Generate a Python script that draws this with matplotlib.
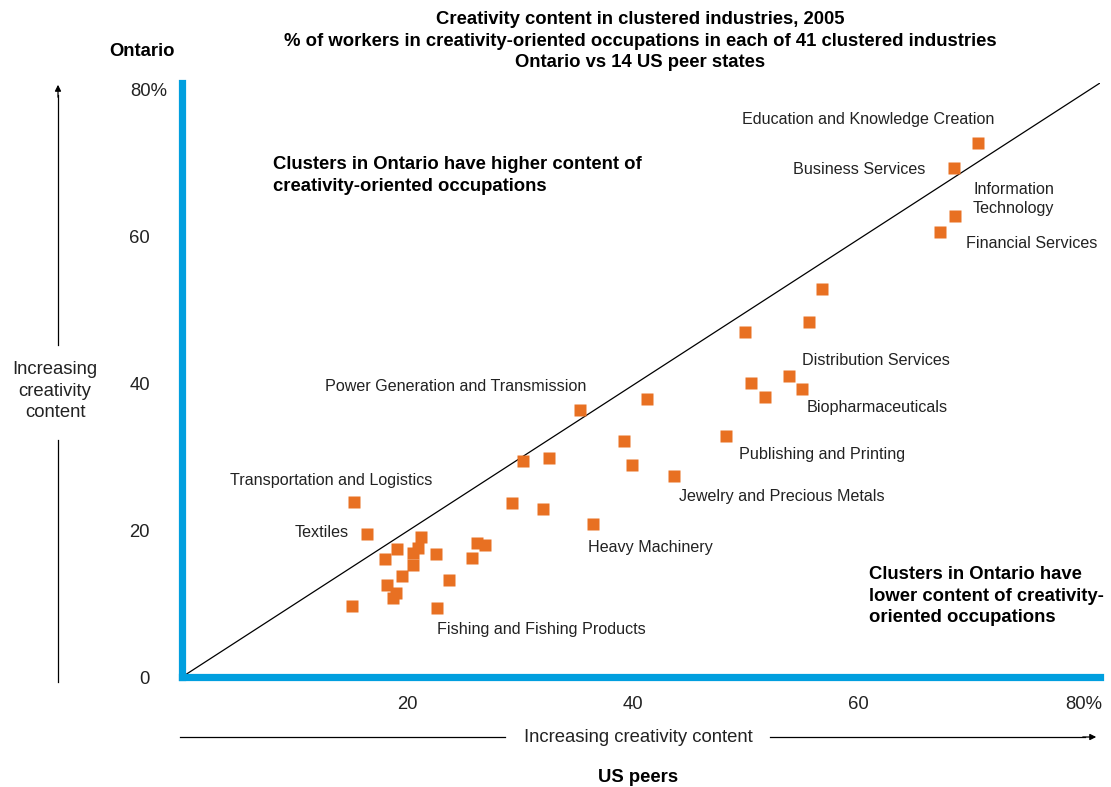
import numpy as np
import matplotlib.pyplot as plt

plt.rcParams['font.family'] = ['Liberation Sans', 'DejaVu Sans']

# % of workers in creativity-oriented occupations (US peers, Ontario)
us_peers = [15.3, 16.4, 21.2, 19.1, 18.0, 20.9, 20.5, 20.5, 22.5, 26.2,
            26.9, 25.7, 19.5, 23.7, 18.2, 19.0, 18.7, 15.1, 22.6, 29.3,
            35.3, 41.3, 39.2, 30.3, 32.6, 39.9, 43.7, 32.0, 36.5, 56.8,
            55.6, 50.0, 53.9, 50.5, 55.0, 51.7, 48.3, 70.6, 68.5, 68.6,
            67.3]
ontario = [23.8, 19.5, 19.0, 17.4, 16.1, 17.6, 16.9, 15.3, 16.7, 18.2,
           18.0, 16.2, 13.7, 13.2, 12.5, 11.4, 10.8, 9.7, 9.4, 23.7,
           36.3, 37.8, 32.1, 29.4, 29.8, 28.8, 27.3, 22.9, 20.8, 52.8,
           48.3, 46.9, 41.0, 40.0, 39.2, 38.1, 32.8, 72.7, 69.3, 62.7,
           60.5]

label_names = ["Education and Knowledge Creation", "Business Services",
               "Information\nTechnology", "Financial Services",
               "Distribution Services", "Biopharmaceuticals",
               "Publishing and Printing", "Jewelry and Precious Metals",
               "Heavy Machinery", "Fishing and Fishing Products",
               "Power Generation and Transmission",
               "Transportation and Logistics", "Textiles"]
label_x = [49.7, 54.2, 70.2, 69.6, 55.0, 55.4, 49.4, 44.1, 36.0, 22.6, 12.7, 4.3, 10.0]
label_y = [75.9, 69.1, 65.0, 59.0, 43.0, 36.6, 30.2, 24.5, 17.6, 6.4, 39.5, 26.7, 19.7]

x_ticks = [20, 40, 60, 80]
x_ticklabels = ["20", "40", "60", "80%"]
y_ticks = [0, 20, 40, 60, 80]
y_ticklabels = ["0", "20", "40", "60", "80%"]

blue = "#009FDF"
orange = "#E87022"
W, H = 1111, 787
big = 13.3

def fx(px):
    return px / W

def fy(py):
    return 1 - py / H

fig = plt.figure(figsize=(11.11, 7.87), dpi=100)
ax = fig.add_axes([fx(182), fy(677), fx(1100) - fx(182), fy(83) - fy(677)])
xmax, ymax = 81.46, 80.8
ax.set_xlim(0, xmax)
ax.set_ylim(0, ymax)

ax.plot([0, xmax], [0, ymax], color="black", lw=0.9, zorder=1)
ax.plot(us_peers, ontario, "s", color=orange, ms=8.6, mec="none", zorder=3)

for name, tx, ty in zip(label_names, label_x, label_y):
    ax.text(tx, ty, name, fontsize=11.6, ha="left", va="center", color="#222222",
            linespacing=1.3)

ax.text(8.07, 68.2, "Clusters in Ontario have higher content of\ncreativity-oriented occupations",
        fontsize=big, fontweight="bold", ha="left", va="center", linespacing=1.33)
ax.text(61.0, 11.0, "Clusters in Ontario have\nlower content of creativity-\noriented occupations",
        fontsize=big, fontweight="bold", ha="left", va="center", linespacing=1.33)

for s in ["top", "right"]:
    ax.spines[s].set_visible(False)
for s in ["left", "bottom"]:
    ax.spines[s].set_color(blue)
    ax.spines[s].set_linewidth(5.2)
    ax.spines[s].set_capstyle("projecting")

ax.set_xticks(x_ticks)
ax.set_xticklabels(x_ticklabels, fontsize=big, color="#222222")
ax.tick_params(axis="x", length=0, pad=14)
ax.set_yticks([])
ytr = ax.get_yaxis_transform()
for v, lab in zip(y_ticks, y_ticklabels):
    if lab.endswith("%"):
        ax.text(-0.0566, v - 0.4, lab, transform=ytr, ha="left", va="center",
                fontsize=big, color="#222222")
    else:
        ax.text(-0.0349, v - 0.4, lab, transform=ytr, ha="right", va="center",
                fontsize=big, color="#222222")

fig.text(fx(640), fy(41), "Creativity content in clustered industries, 2005\n"
         "% of workers in creativity-oriented occupations in each of 41 clustered industries\n"
         "Ontario vs 14 US peer states", ha="center", va="center",
         fontsize=big, fontweight="bold", linespacing=1.35)
fig.text(fx(142), fy(52), "Ontario", ha="center", va="center",
         fontsize=big, fontweight="bold")
fig.text(fx(638), fy(777), "US peers", ha="center", va="center",
         fontsize=big, fontweight="bold")

# left vertical arrow
fig.add_artist(plt.Line2D([fx(58), fx(58)], [fy(682), fy(440)], color="black", lw=0.9))
fig.add_artist(plt.Line2D([fx(58), fx(58)], [fy(345), fy(95)], color="black", lw=0.9))
fig.text(fx(55), fy(391), "Increasing\ncreativity\ncontent", ha="center", va="center",
         fontsize=big, color="#222222", linespacing=1.35)
ax.annotate("", xy=(fx(58), fy(82)), xytext=(fx(58), fy(100)), xycoords="figure fraction",
            textcoords="figure fraction",
            arrowprops=dict(arrowstyle="-|>", color="black", lw=0.9, mutation_scale=9))

# bottom horizontal arrow
fig.add_artist(plt.Line2D([fx(180), fx(505)], [fy(737), fy(737)], color="black", lw=0.9))
fig.add_artist(plt.Line2D([fx(770), fx(1085)], [fy(737), fy(737)], color="black", lw=0.9))
fig.text(fx(638), fy(737), "Increasing creativity content", ha="center", va="center",
         fontsize=big, color="#222222")
ax.annotate("", xy=(fx(1099), fy(737)), xytext=(fx(1080), fy(737)), xycoords="figure fraction",
            textcoords="figure fraction",
            arrowprops=dict(arrowstyle="-|>", color="black", lw=0.9, mutation_scale=9))

fig.savefig("out.png", dpi=100)
